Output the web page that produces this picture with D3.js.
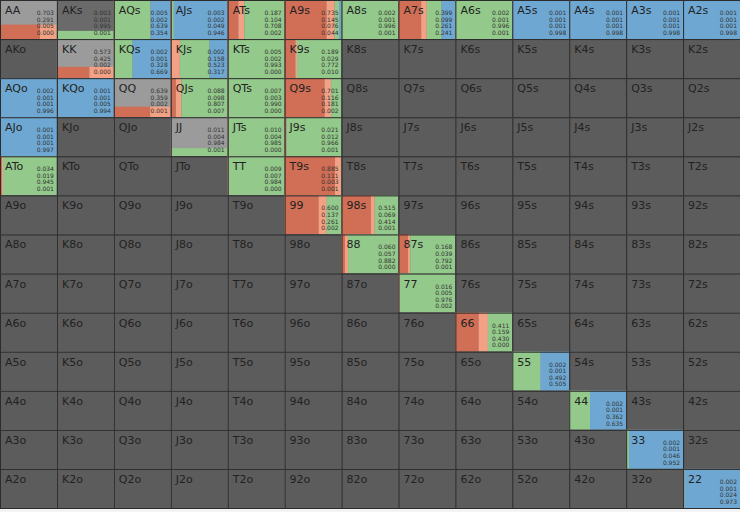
<!DOCTYPE html>
<html>
<head>
<meta charset="utf-8">
<script src="https://cdn.jsdelivr.net/npm/d3@7/dist/d3.min.js"></script>
<style>
  html, body { margin: 0; padding: 0; background: #f4f4f4; }
  svg { display: block; }
</style>
</head>
<body>
<svg id="chart" width="740" height="512"></svg>
<script>
// ---- data ----
const ranks = ["A","K","Q","J","T","9","8","7","6","5","4","3","2"];
const actionNames = ["Action 1","Action 2","Action 3","Action 4"];

const strategyHands = ["AA","AKs","AQs","AJs","ATs","A9s","A8s","A7s","A6s","A5s","A4s","A3s","A2s",
  "KK","KQs","KJs","KTs","K9s",
  "AQo","KQo","QQ","QJs","QTs","Q9s",
  "AJo","JJ","JTs","J9s",
  "ATo","TT","T9s",
  "99","98s",
  "88","87s",
  "77","66","55","44","33","22"];
const action1 = [0.703,0.003,0.005,0.003,0.187,0.735,0.002,0.399,0.002,0.001,0.001,0.001,0.001,
  0.573,0.002,0.002,0.005,0.189,
  0.002,0.001,0.639,0.088,0.007,0.701,
  0.001,0.011,0.010,0.021,
  0.034,0.009,0.885,
  0.600,0.515,
  0.060,0.168,
  0.016,0.411,0.002,0.002,0.002,0.002];
const action2 = [0.291,0.001,0.002,0.002,0.104,0.145,0.001,0.099,0.001,0.001,0.001,0.001,0.001,
  0.425,0.001,0.158,0.002,0.029,
  0.001,0.001,0.359,0.098,0.003,0.116,
  0.001,0.004,0.004,0.012,
  0.019,0.007,0.111,
  0.137,0.069,
  0.057,0.039,
  0.005,0.159,0.001,0.001,0.001,0.001];
const action3 = [0.005,0.995,0.639,0.049,0.708,0.076,0.996,0.261,0.996,0.001,0.001,0.001,0.001,
  0.002,0.328,0.523,0.993,0.772,
  0.001,0.005,0.002,0.807,0.990,0.181,
  0.001,0.984,0.985,0.966,
  0.945,0.984,0.003,
  0.261,0.414,
  0.882,0.792,
  0.976,0.430,0.492,0.362,0.046,0.024];
const action4 = [0.000,0.001,0.354,0.946,0.002,0.044,0.001,0.241,0.001,0.998,0.998,0.998,0.998,
  0.000,0.669,0.317,0.000,0.010,
  0.996,0.994,0.001,0.007,0.000,0.002,
  0.997,0.001,0.000,0.001,
  0.001,0.000,0.001,
  0.002,0.001,
  0.000,0.001,
  0.002,0.000,0.505,0.635,0.952,0.973];
// share of the hand's combos that are in the range (1 = full)
const weightHands = ["AA","AKs","KK","QQ","JJ"];
const weightValues = [0.37, 0.21, 0.29, 0.27, 0.21];

// ---- setup ----
const W = 740, H = 508;
const svg = d3.select("#chart");
const x = d3.scaleBand().domain(d3.range(13)).range([0, W]);
const y = d3.scaleBand().domain(d3.range(13)).range([0, H]);
const color = d3.scaleOrdinal().domain(actionNames)
  .range(["#d06e56","#f2a184","#93c98b","#6ea8d2"]);

const strat = new Map(strategyHands.map((h, i) => [h, [action1[i], action2[i], action3[i], action4[i]]]));
const weight = new Map(weightHands.map((h, i) => [h, weightValues[i]]));

function handName(i, j) {
  if (i === j) return ranks[i] + ranks[j];
  if (j > i) return ranks[i] + ranks[j] + "s";
  return ranks[j] + ranks[i] + "o";
}

const cells = [];
for (let i = 0; i < 13; i++) for (let j = 0; j < 13; j++) {
  const name = handName(i, j);
  cells.push({ i, j, name, freqs: strat.get(name), w: weight.has(name) ? weight.get(name) : 1 });
}

const cw = x.bandwidth(), ch = y.bandwidth();
const fx = d3.scaleLinear().domain([0, 1]).range([0, cw]);
const fy = d3.scaleLinear().domain([0, 1]).range([0, ch]);

const g = svg.selectAll("g.cell").data(cells).join("g")
  .attr("class", "cell")
  .attr("transform", d => `translate(${x(d.j)},${y(d.i)})`);

// base background
g.append("rect")
  .attr("width", cw).attr("height", ch)
  .attr("fill", d => {
    if (!d.freqs) return "#5c5c5c";
    return d.i === d.j ? "#9b9b9b" : "#6a6a6a";
  });

// stacked horizontal bars
g.filter(d => d.freqs).each(function(d) {
  const sel = d3.select(this);
  let acc = 0;
  const segs = d.freqs.map((v, k) => { const s = { k, x0: acc, v }; acc += v; return s; });
  sel.selectAll("rect.seg").data(segs).join("rect")
    .attr("class", "seg")
    .attr("x", s => fx(s.x0))
    .attr("y", ch - fy(d.w))
    .attr("width", s => Math.max(0, fx(s.v)))
    .attr("height", fy(d.w))
    .attr("fill", s => color(actionNames[s.k]));
});

// borders
g.append("rect")
  .attr("x", 0.5).attr("y", 0.5)
  .attr("width", cw).attr("height", ch)
  .attr("fill", "none")
  .attr("stroke", "#2c2c2c")
  .attr("stroke-width", 1);

// hand label
g.append("text")
  .attr("x", 5).attr("y", 14)
  .attr("font-family", "DejaVu Sans, Verdana, sans-serif")
  .attr("font-size", 11)
  .attr("fill", "#222")
  .text(d => d.name);

// frequency numbers
g.filter(d => d.freqs).each(function(d) {
  d3.select(this).selectAll("text.num").data(d.freqs).join("text")
    .attr("class", "num")
    .attr("x", cw - 3)
    .attr("y", (v, k) => 15 + k * 6.6)
    .attr("text-anchor", "end")
    .attr("font-family", "DejaVu Sans, Verdana, sans-serif")
    .attr("font-size", 6)
    .attr("fill", "#333")
    .text(v => v.toFixed(3));
});
</script>
</body>
</html>
